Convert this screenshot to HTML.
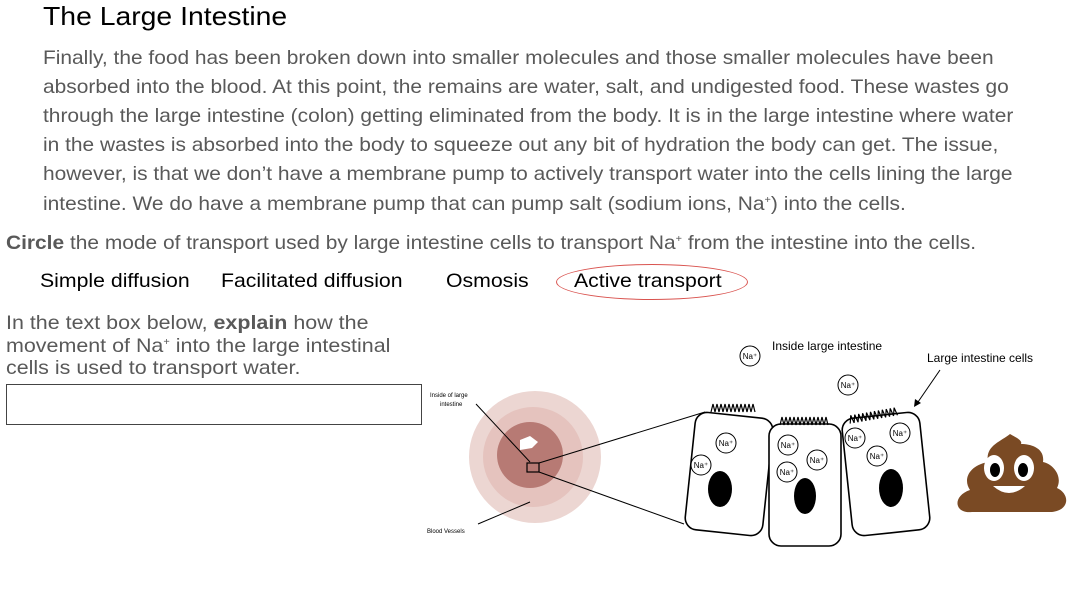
<!DOCTYPE html>
<html><head><meta charset="utf-8"><style>
body{margin:0;width:1071px;height:593px;background:#fff;position:relative;overflow:hidden;font-family:"Liberation Sans",Arial,sans-serif}
.a{position:absolute;white-space:nowrap}
.s{transform:scaleX(1.09);transform-origin:0 0}
.p{color:#595959;font-size:19.2px;left:43px}
sup{font-size:10px;line-height:0;vertical-align:7px}
</style></head><body>
<div class="a s" style="left:43px;top:1px;font-size:26px;color:#000">The Large Intestine</div>
<div class="a p s" style="top:48px">Finally, the food has been broken down into smaller molecules and those smaller molecules have been</div>
<div class="a p s" style="top:77px">absorbed into the blood. At this point, the remains are water, salt, and undigested food. These wastes go</div>
<div class="a p s" style="top:106px">through the large intestine (colon) getting eliminated from the body. It is in the large intestine where water</div>
<div class="a p s" style="top:135px">in the wastes is absorbed into the body to squeeze out any bit of hydration the body can get. The issue,</div>
<div class="a p s" style="top:164px">however, is that we don’t have a membrane pump to actively transport water into the cells lining the large</div>
<div class="a p s" style="top:194px">intestine. We do have a membrane pump that can pump salt (sodium ions, Na<sup>+</sup>) into the cells.</div>
<div class="a s" style="left:6px;top:233px;font-size:19.2px;color:#595959"><b>Circle</b> the mode of transport used by large intestine cells to transport Na<sup>+</sup> from the intestine into the cells.</div>
<div class="a s" style="left:40px;top:270px;font-size:19.5px;color:#000">Simple diffusion</div>
<div class="a s" style="left:221px;top:270px;font-size:19.5px;color:#000">Facilitated diffusion</div>
<div class="a s" style="left:446px;top:270px;font-size:19.5px;color:#000">Osmosis</div>
<div class="a s" style="left:574px;top:270px;font-size:19.5px;color:#000">Active transport</div>
<div class="a" style="left:556px;top:264px;width:190px;height:34px;border:1.5px solid #d9534f;border-radius:50%"></div>
<div class="a" style="left:6px;top:312px;font-size:19.5px;color:#595959;line-height:22.5px;transform:scaleX(1.1);transform-origin:0 0">In the text box below, <b>explain</b> how the<br>movement of Na<sup>+</sup> into the large intestinal<br>cells is used to transport water.</div>
<div class="a" style="left:6px;top:384px;width:414px;height:39px;border:1px solid #444"></div>
<svg class="a" style="left:0;top:0" width="1071" height="593">
<g font-family="Liberation Sans,sans-serif">
<circle cx="535" cy="457" r="66" fill="#ecd6d2"/>
<circle cx="533" cy="457" r="50" fill="#e5c3be"/>
<circle cx="530" cy="455" r="33" fill="#b77a74"/>
<path d="M520 440 l10 -4 l8 6 l-6 6 l-12 2z" fill="#fff"/>
<rect x="527" y="463" width="12" height="9" fill="none" stroke="#000" stroke-width="1.2"/>
<line x1="476" y1="404" x2="530" y2="462" stroke="#000"/>
<line x1="478" y1="524" x2="530" y2="502" stroke="#000"/>
<line x1="539" y1="463" x2="705" y2="412" stroke="#000"/>
<line x1="539" y1="472" x2="684" y2="524" stroke="#000"/>
<text x="430" y="397" font-size="6">Inside of large</text><text x="440" y="406" font-size="6">intestine</text>
<text x="427" y="533" font-size="6">Blood Vessels</text>
<g fill="#fff" stroke="#000" stroke-width="1.6">
<rect x="690" y="415" width="78" height="118" rx="12" transform="rotate(6 729 474)"/>
<rect x="769" y="424" width="72" height="122" rx="12"/>
<rect x="847" y="415" width="78" height="118" rx="12" transform="rotate(-6 886 474)"/>
</g>
<g stroke="#000" stroke-width="1.2">
<path d="M711 412 l2 -8 l2 8 l2 -8 l2 8 l2 -8 l2 8 l2 -8 l2 8 l2 -8 l2 8 l2 -8 l2 8 l2 -8 l2 8 l2 -8 l2 8 l2 -8 l2 8 l2 -8 l2 8 l2 -8 l2 8" fill="none"/>
<path d="M780 425 l2 -8 l2 8 l2 -8 l2 8 l2 -8 l2 8 l2 -8 l2 8 l2 -8 l2 8 l2 -8 l2 8 l2 -8 l2 8 l2 -8 l2 8 l2 -8 l2 8 l2 -8 l2 8 l2 -8 l2 8 l2 -8 l2 8" fill="none"/>
<path d="M849 420 l2 -8 l2 8 l2 -8 l2 8 l2 -8 l2 8 l2 -8 l2 8 l2 -8 l2 8 l2 -8 l2 8 l2 -8 l2 8 l2 -8 l2 8 l2 -8 l2 8 l2 -8 l2 8 l2 -8 l2 8 l2 -8 l2 8" fill="none" transform="rotate(-10 870 415)"/>
</g>
<ellipse cx="720" cy="489" rx="12" ry="18"/>
<ellipse cx="805" cy="496" rx="11" ry="18"/>
<ellipse cx="891" cy="488" rx="12" ry="19"/>
<g fill="#fff" stroke="#000" stroke-width="1" font-size="8">
<circle cx="750" cy="356" r="10"/><circle cx="848" cy="385" r="10"/>
<circle cx="726" cy="443" r="10"/><circle cx="701" cy="465" r="10"/>
<circle cx="788" cy="445" r="10"/><circle cx="817" cy="460" r="10"/><circle cx="787" cy="472" r="10"/>
<circle cx="855" cy="438" r="10"/><circle cx="900" cy="433" r="10"/><circle cx="877" cy="456" r="10"/>
</g>
<g font-size="8" text-anchor="middle" fill="#000">
<text x="750" y="359">Na⁺</text><text x="848" y="388">Na⁺</text>
<text x="726" y="446">Na⁺</text><text x="701" y="468">Na⁺</text>
<text x="788" y="448">Na⁺</text><text x="817" y="463">Na⁺</text><text x="787" y="475">Na⁺</text>
<text x="855" y="441">Na⁺</text><text x="900" y="436">Na⁺</text><text x="877" y="459">Na⁺</text>
</g>
<text x="772" y="350" font-size="12" fill="#000">Inside large intestine</text>
<text x="927" y="362" font-size="12" fill="#000">Large intestine cells</text>
<line x1="940" y1="370" x2="918" y2="402" stroke="#000"/>
<path d="M914 407 l1 -8 l6 4z" fill="#000"/>
<path d="M1010 434 c-10 8 -25 12 -22 28 c-20 4 -25 18 -18 28 c-18 6 -16 24 2 22 l80 0 c18 -2 18 -18 5 -24 c6 -12 -4 -24 -14 -26 c2 -14 -12 -18 -22 -18 c2 -4 -8 -8 -11 -10z" fill="#7a4a24"/>
<ellipse cx="994" cy="468" rx="10" ry="13" fill="#fff"/><ellipse cx="1024" cy="468" rx="10" ry="13" fill="#fff"/>
<ellipse cx="995" cy="470" rx="5" ry="7"/><ellipse cx="1023" cy="470" rx="5" ry="7"/>
<path d="M993 486 q16 14 32 0z" fill="#fff"/>
</g>
</svg>
</body></html>
